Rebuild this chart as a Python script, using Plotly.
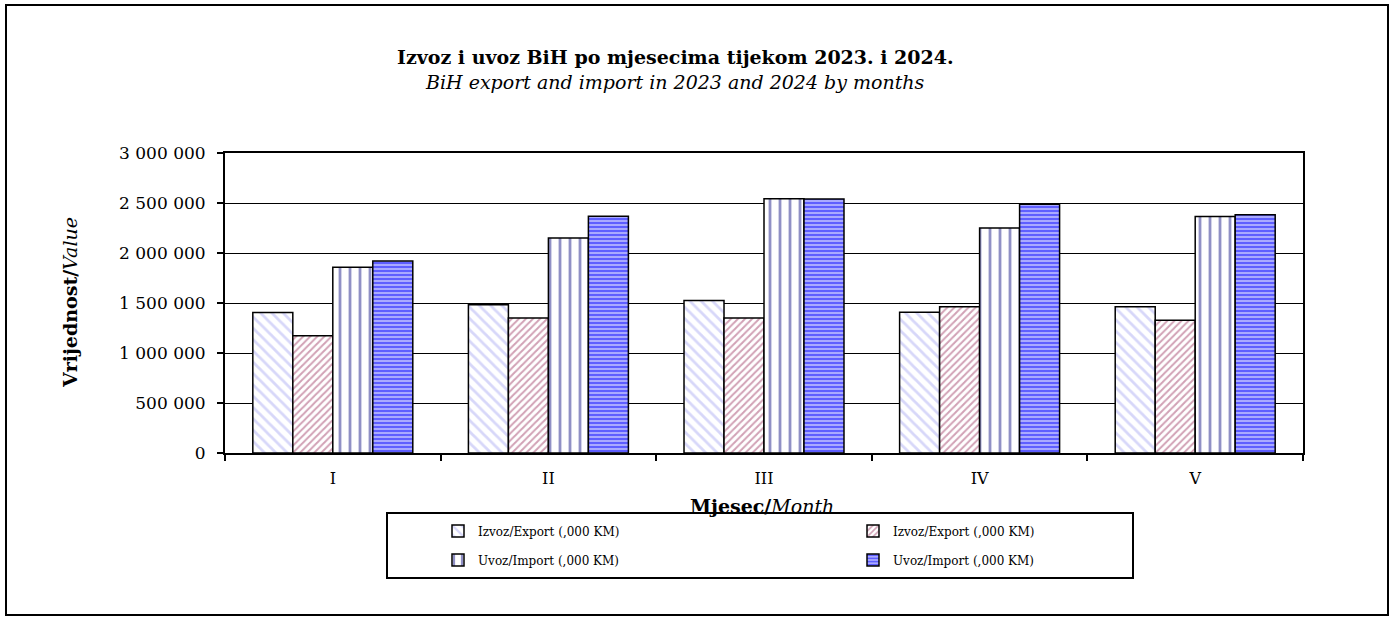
import plotly.graph_objects as go

months = ["I", "II", "III", "IV", "V"]
series_names = ["Izvoz/Export (,000 KM)", "Izvoz/Export (,000 KM)",
                "Uvoz/Import (,000 KM)", "Uvoz/Import (,000 KM)"]
export_2023 = [1406000, 1483000, 1526000, 1407000, 1463000]
export_2024 = [1173000, 1350000, 1350000, 1463000, 1328000]
import_2023 = [1857000, 2150000, 2542000, 2250000, 2365000]
import_2024 = [1920000, 2368000, 2540000, 2488000, 2382000]
y_ticks = [0, 500000, 1000000, 1500000, 2000000, 2500000, 3000000]
y_tick_labels = ["0", "500 000", "1 000 000", "1 500 000", "2 000 000", "2 500 000", "3 000 000"]

W, H = 1394, 622
L, R, T, B = 225, 1303, 153, 453  # plot area in px


def px(x):
    return (x - L) / (R - L)


def py(y):
    return (B - y) / (B - T)


FONT = "DejaVu Serif"

patterns = [
    dict(shape="\\", fgcolor="#b0b0f4", bgcolor="white", size=8, solidity=0.35),
    dict(shape="/", fgcolor="#a3446c", bgcolor="white", size=5, solidity=0.4),
    dict(shape="|", fgcolor="#22228c", bgcolor="white", size=10, solidity=0.28),
    dict(shape="-", fgcolor="#0000ff", bgcolor="#bcbcff", size=4, solidity=0.6),
]
values = [export_2023, export_2024, import_2023, import_2024]
legends = ["legend", "legend", "legend2", "legend2"]

fig = go.Figure()
for name, vals, pat, lg in zip(series_names, values, patterns, legends):
    fig.add_trace(go.Bar(
        x=months, y=vals, name=name, legend=lg,
        marker=dict(color="white", pattern=pat, line=dict(color="black", width=1.5)),
    ))

legend_common = dict(
    orientation="h", xanchor="left", yanchor="middle",
    entrywidth=370, entrywidthmode="pixels",
    font=dict(family=FONT, size=12, color="black"),
    bgcolor="rgba(0,0,0,0)", borderwidth=0, itemwidth=30,
)

fig.update_layout(
    width=W, height=H,
    margin=dict(l=L, r=W - R, t=T, b=H - B),
    paper_bgcolor="white", plot_bgcolor="white",
    barmode="group", bargap=0.258, bargroupgap=0,
    showlegend=True,
    legend=dict(x=px(438), y=py(531), **legend_common),
    legend2=dict(x=px(438), y=py(560), **legend_common),
    font=dict(family=FONT, size=16, color="black"),
    xaxis=dict(
        type="category", showgrid=False, tickson="boundaries",
        ticks="outside", ticklen=6, tickcolor="black", tickwidth=1.5,
        showline=True, linecolor="black", linewidth=2, mirror=True,
        tickfont=dict(family=FONT, size=16, color="black"),
        ticklabelstandoff=10,
    ),
    yaxis=dict(
        range=[0, 3000000], tickvals=y_ticks, ticktext=y_tick_labels,
        showgrid=True, gridcolor="black", gridwidth=1.3,
        ticks="outside", ticklen=6, tickcolor="black", tickwidth=1.5,
        showline=True, linecolor="black", linewidth=2, mirror=True,
        tickfont=dict(family=FONT, size=17, color="black"),
        zeroline=False, ticklabelstandoff=8,
    ),
    shapes=[
        dict(type="rect", xref="paper", yref="paper",
             x0=px(6), x1=px(1388), y0=py(615), y1=py(5),
             line=dict(color="black", width=2), fillcolor="rgba(0,0,0,0)", layer="below"),
        dict(type="rect", xref="paper", yref="paper",
             x0=px(387), x1=px(1133), y0=py(578), y1=py(513),
             line=dict(color="black", width=2), fillcolor="rgba(0,0,0,0)"),
    ],
    annotations=[
        dict(text="<b>Izvoz i uvoz BiH po mjesecima tijekom 2023. i 2024.</b>",
             xref="paper", yref="paper", x=px(675), y=py(57), showarrow=False,
             xanchor="center", yanchor="middle", font=dict(family=FONT, size=19)),
        dict(text="<i>BiH export and import in 2023 and 2024 by months</i>",
             xref="paper", yref="paper", x=px(675), y=py(82), showarrow=False,
             xanchor="center", yanchor="middle", font=dict(family=FONT, size=19)),
        dict(text="<b>Vrijednost/</b><i>Value</i>",
             xref="paper", yref="paper", x=px(70), y=py(303), showarrow=False,
             textangle=-90, xanchor="center", yanchor="middle", font=dict(family=FONT, size=19)),
        dict(text="<b>Mjesec/</b><i>Month</i>",
             xref="paper", yref="paper", x=px(762), y=py(506), showarrow=False,
             xanchor="center", yanchor="middle", font=dict(family=FONT, size=19)),
    ],
)

fig.write_html("out.html", config={"displayModeBar": False},
               post_script="document.body.style.margin='0';document.body.style.padding='0';")
